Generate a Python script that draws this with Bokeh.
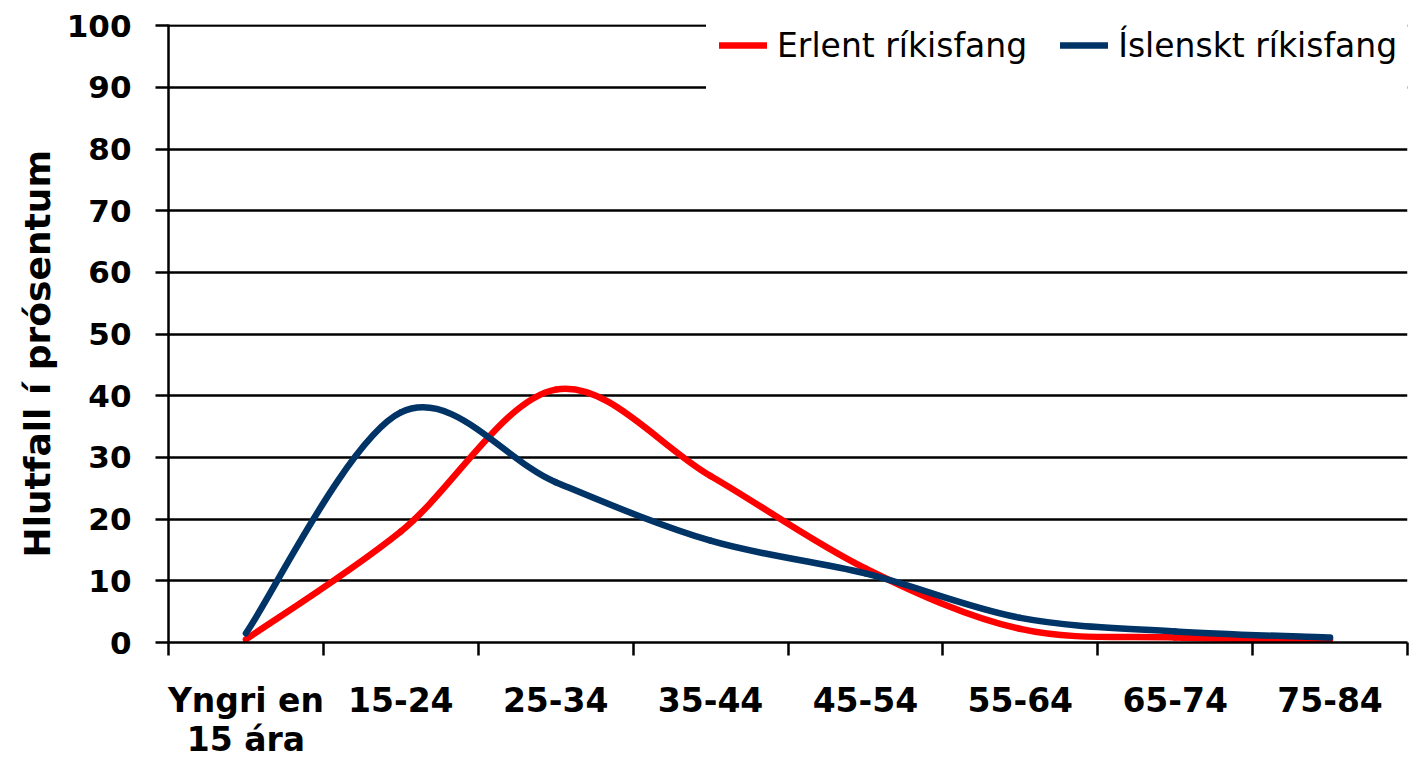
from bokeh.plotting import figure
from bokeh.models import Range1d, FixedTicker, Legend, LegendItem, Title
from bokeh.embed import file_html
from bokeh.resources import INLINE

# ---- data ----
categories = ["Yngri en\n15 ára", "15-24", "25-34", "35-44", "45-54", "55-64", "65-74", "75-84"]
erlent = [0.5, 18.0, 41.0, 27.0, 12.0, 2.2, 0.8, 0.5]
islenskt = [1.5, 37.3, 26.0, 16.5, 11.2, 4.0, 1.8, 0.8]
series_names = ["Erlent ríkisfang", "Íslenskt ríkisfang"]
y_ticks = list(range(0, 101, 10))
y_label = "Hlutfall í prósentum"

FONT = "DejaVu Sans"

x_centers = [i + 0.5 for i in range(len(categories))]
x_bounds = list(range(len(categories) + 1))


def smooth_segments(xs, ys):
    """Catmull-Rom style cubic Bezier control points (Excel-like smoothing)."""
    n = len(xs)
    pts = list(zip(xs, ys))
    out = dict(x0=[], y0=[], x1=[], y1=[], cx0=[], cy0=[], cx1=[], cy1=[])
    for i in range(n - 1):
        pm = pts[max(i - 1, 0)]
        p0 = pts[i]
        p1 = pts[i + 1]
        p2 = pts[min(i + 2, n - 1)]
        out["x0"].append(p0[0]); out["y0"].append(p0[1])
        out["x1"].append(p1[0]); out["y1"].append(p1[1])
        out["cx0"].append(p0[0] + (p1[0] - pm[0]) / 6.0)
        out["cy0"].append(p0[1] + (p1[1] - pm[1]) / 6.0)
        out["cx1"].append(p1[0] - (p2[0] - p0[0]) / 6.0)
        out["cy1"].append(p1[1] - (p2[1] - p0[1]) / 6.0)
    return out


p = figure(
    frame_width=1239, frame_height=618,
    min_border_left=168, min_border_right=2, min_border_top=24, min_border_bottom=117,
    x_range=Range1d(0, len(categories)), y_range=Range1d(0, 100.2),
    output_backend="svg", toolbar_location=None,
)
p.outline_line_color = None
p.background_fill_color = "white"
p.border_fill_color = "white"

# grid
p.xgrid.grid_line_color = None
p.ygrid.ticker = FixedTicker(ticks=y_ticks)
p.ygrid.grid_line_color = "black"
p.ygrid.grid_line_width = 2.5

# y axis
ya = p.yaxis[0]
ya.ticker = FixedTicker(ticks=y_ticks)
ya.axis_line_color = "black"
ya.axis_line_width = 2.5
ya.major_tick_out = 13
ya.major_tick_in = 0
ya.major_tick_line_width = 2.5
ya.major_tick_line_color = "black"
ya.minor_tick_line_color = None
ya.major_label_standoff = 24
ya.major_label_text_font = FONT
ya.major_label_text_font_style = "bold"
ya.major_label_text_font_size = "31px"
ya.major_label_text_color = "black"

# y axis title (side title, anchored near the bottom of the frame)
y_title = Title(text=y_label, align="left", offset=85, standoff=12,
                text_font=FONT, text_font_style="bold", text_font_size="36px",
                text_color="black")
p.add_layout(y_title, "left")

# x axis
xa = p.xaxis[0]
xa.ticker = FixedTicker(ticks=x_centers, minor_ticks=x_bounds)
xa.major_label_overrides = {c: lab for c, lab in zip(x_centers, categories)}
xa.axis_line_color = "black"
xa.axis_line_width = 2.5
xa.major_tick_out = 0
xa.major_tick_in = 0
xa.major_tick_line_color = None
xa.minor_tick_out = 13
xa.minor_tick_in = 0
xa.minor_tick_line_color = "black"
xa.minor_tick_line_width = 2.5
xa.major_label_standoff = 25
xa.major_label_text_font = FONT
xa.major_label_text_font_style = "bold"
xa.major_label_text_font_size = "33px"
xa.major_label_text_line_height = 1.0
xa.major_label_text_color = "black"

# smoothed lines
r_erl = p.bezier(line_color="#FF0000", line_width=6.5, line_cap="round",
                 **smooth_segments(x_centers, erlent))
r_isl = p.bezier(line_color="#003366", line_width=6.5, line_cap="round",
                 **smooth_segments(x_centers, islenskt))

legend = Legend(
    items=[LegendItem(label=series_names[0], renderers=[r_erl]),
           LegendItem(label=series_names[1], renderers=[r_isl])],
    orientation="horizontal",
    location=(538, 552),
    padding=12, spacing=33, margin=0,
    glyph_width=48, glyph_height=64, label_height=64, label_standoff=10,
    label_text_font=FONT, label_text_font_size="33px", label_text_color="black",
    border_line_color="white", border_line_width=1,
    background_fill_color="white", background_fill_alpha=1.0,
)
p.add_layout(legend)

open("out.html", "w").write(file_html(p, INLINE))
